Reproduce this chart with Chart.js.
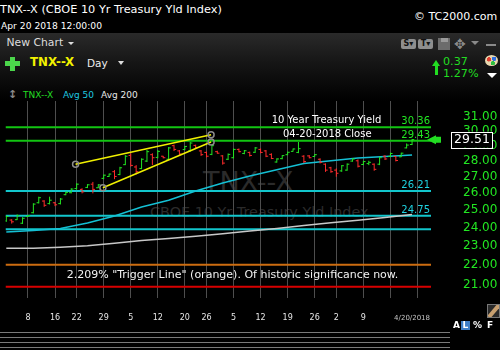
<!DOCTYPE html>
<html>
<head>
<meta charset="utf-8">
<title>TNX--X Daily</title>
<script src="https://cdn.jsdelivr.net/npm/chart.js@4.4.1/dist/chart.umd.min.js"></script>
<style>
  html, body { margin: 0; padding: 0; background: #000; }
  body { width: 500px; height: 350px; position: relative; overflow: hidden; font-family: "DejaVu Sans", Verdana, sans-serif; }
  .t { position: absolute; white-space: nowrap; line-height: 1; }
  .band { position: absolute; left: 0; top: 33px; width: 500px; height: 68px; background: linear-gradient(#2a2a2a, #151515 45%, #000); }
  .wm { position: absolute; white-space: nowrap; line-height: 1; color: #2b2b2b; }
  .tri { position: absolute; width: 0; height: 0; border-left: 3px solid transparent; border-right: 3px solid transparent; border-top: 3px solid #ddd; }
  .sep { position: absolute; left: 0; width: 450px; height: 1px; background: #7a7a7a; }
  .btn { position: absolute; height: 10px; width: 15px; background: #8e8e8e; border-radius: 2px; color: #111; font: bold 8px "DejaVu Sans"; line-height: 10px; text-align: center; }
  #wrap { position: absolute; left: 0; top: 0; width: 500px; height: 350px; }
</style>
</head>
<body>

<!-- header -->
<div class="t" style="left:0;top:3.6px;font-size:11.3px;color:#fff">TNX--X (CBOE 10 Yr Treasury Yld Index)</div>
<div class="t" style="left:1px;top:20.6px;font-size:9.2px;color:#fff">Apr 20 2018 12:00:00</div>
<div class="t" style="left:414px;top:11.4px;font-size:11px;color:#fff">© TC2000.com</div>

<div class="band"></div>
<div class="t" style="left:6.5px;top:37.8px;font-size:10.8px;color:#ddd">New Chart</div>
<div class="tri" style="left:68px;top:41.5px"></div>

<!-- green plus -->
<div style="position:absolute;left:9.7px;top:56.5px;width:5px;height:14px;background:#4bd64b"></div>
<div style="position:absolute;left:5px;top:61px;width:14.5px;height:5px;background:#4bd64b"></div>

<div class="t" style="left:30px;top:56.8px;font-size:11.8px;font-weight:bold;color:#f2f200">TNX--X</div>
<div class="t" style="left:87px;top:57.5px;font-size:10.5px;color:#eee">Day</div>
<div class="tri" style="left:118px;top:61px;border-left-width:3.5px;border-right-width:3.5px;border-top-width:4px"></div>

<div class="btn" style="left:401px;top:39px">S▾</div>
<div class="btn" style="left:418px;top:39px">T▾</div>
<div style="position:absolute;left:438px;top:37.5px;width:12px;height:12px;background:#6c6c6c"></div>
<div style="position:absolute;left:440.5px;top:38px;width:7px;height:4px;background:#9a9a9a"></div>
<div class="t" style="left:454px;top:36.5px;font-size:14px;color:#8a8a8a">✥</div>
<div class="tri" style="left:471px;top:41px;border-left-width:4px;border-right-width:4px;border-top:4px solid #8a8a8a"></div>
<div style="position:absolute;left:486px;top:43.5px;width:10px;height:2px;background:#8a8a8a"></div>

<!-- change readout -->
<div style="position:absolute;left:431.5px;top:60px;width:0;height:0;border-left:4.5px solid transparent;border-right:4.5px solid transparent;border-bottom:6px solid #22dd22"></div>
<div style="position:absolute;left:434.5px;top:65.5px;width:3px;height:9.5px;background:#22dd22"></div>
<div class="t" style="left:443px;top:55.8px;font-size:11.2px;color:#22dd22">0.37</div>
<div class="t" style="left:443px;top:68px;font-size:11.2px;color:#22dd22">1.27%</div>
<div style="position:absolute;left:485px;top:55px;width:13px;height:11px;border-radius:50%;background:radial-gradient(circle at 30% 40%, #e04030 0 18%, transparent 20%), radial-gradient(circle at 70% 35%, #3070e0 0 18%, transparent 20%), radial-gradient(circle at 60% 75%, #30c040 0 18%, transparent 20%), #e8d8b0"></div>
<div class="tri" style="left:486.5px;top:73px;border-left-width:5px;border-right-width:5px;border-top:5px solid #fff"></div>

<!-- legend row -->
<div class="t" style="left:8px;top:89px;font-size:11px;font-weight:bold;color:#8a8a8a">↕</div>
<div class="t" style="left:23px;top:91.4px;font-size:9px;color:#22dd22">TNX--X</div>
<div class="t" style="left:63px;top:91.4px;font-size:9px;color:#1ec8e0">Avg 50</div>
<div class="t" style="left:101px;top:91.4px;font-size:9px;color:#e8e8e8">Avg 200</div>

<!-- faint symbol watermark behind the plot -->
<div class="wm" style="left:203px;top:168px;font-size:27px">TNX--X</div>
<div class="wm" style="left:150px;top:205px;font-size:14.4px">CBOE 10 Yr Treasury Yld Index</div>

<div id="wrap"><canvas id="chart" width="500" height="350"></canvas></div>

<!-- notes written on the chart -->
<div class="t" style="left:271.7px;top:114.5px;font-size:10px;color:#fff">10 Year Treasury Yield</div>
<div class="t" style="left:283px;top:128.5px;font-size:10px;color:#fff">04-20-2018 Close</div>
<div class="t" style="left:66.7px;top:268.7px;font-size:11px;color:#f2f2f2">2.209% "Trigger Line" (orange). Of historic significance now.</div>

<!-- bottom right tools -->
<div style="position:absolute;left:487px;top:304px;width:11px;height:12px;border:1px solid #777;background:#2a2a2a;overflow:hidden">
  <div style="position:absolute;left:-2px;top:4px;width:16px;height:4px;background:#c8a070;transform:rotate(-50deg)"></div>
</div>
<div class="t" style="left:453px;top:321px;font-size:9px;font-weight:bold;color:#fff">A</div>
<div style="position:absolute;left:461px;top:320.5px;width:9px;height:9px;background:#3f7fc6"></div>
<div class="t" style="left:462.5px;top:321px;font-size:9px;font-weight:bold;color:#fff">L</div>
<div class="t" style="left:473px;top:321px;font-size:9px;font-weight:bold;color:#fff">%</div>
<div class="t" style="left:487px;top:321px;font-size:9px;font-weight:bold;color:#fff">F</div>

<div class="sep" style="top:332px"></div>
<div class="sep" style="top:337px"></div>
<div class="sep" style="top:342px"></div>
<div class="sep" style="top:347px"></div>

<script>
'use strict';

/* ========================================================
   Data — TNX daily bars, Jan 2 to Apr 20 2018 (yield x 10)
   ======================================================== */
const days = [
  '1/2','1/3','1/4','1/5','1/8','1/9','1/10','1/11','1/12','1/16','1/17','1/18','1/19',
  '1/22','1/23','1/24','1/25','1/26','1/29','1/30','1/31','2/1','2/2',
  '2/5','2/6','2/7','2/8','2/9','2/12','2/13','2/14','2/15','2/16',
  '2/20','2/21','2/22','2/23','2/26','2/27','2/28','3/1','3/2',
  '3/5','3/6','3/7','3/8','3/9','3/12','3/13','3/14','3/15','3/16',
  '3/19','3/20','3/21','3/22','3/23','3/26','3/27','3/28','3/29',
  '4/2','4/3','4/4','4/5','4/6','4/9','4/10','4/11','4/12','4/13',
  '4/16','4/17','4/18','4/19','4/20'
];

const opens = [
  24.45, 24.50, 24.52, 24.32, 24.70, 24.92, 25.50, 25.60, 25.45, 25.50, 25.45, 25.98, 26.10,
  26.35, 26.30, 26.42, 26.62, 26.40, 26.98, 27.10, 27.40, 27.22, 27.85,
  28.45, 27.70, 27.60, 28.08, 28.50, 28.32, 28.40, 28.20, 29.10, 28.75,
  28.84, 28.75, 29.12, 28.75, 28.65, 28.52, 28.70, 28.42, 28.20,
  28.30, 28.85, 28.58, 28.65, 28.66, 28.85, 28.75, 28.52, 28.02, 28.24,
  28.50, 28.72, 28.65, 28.40, 28.42, 28.38, 28.20, 27.88, 27.65,
  27.50, 27.45, 27.50, 28.08, 28.10, 27.86, 27.92, 27.88, 27.88, 28.40,
  28.38, 28.38, 28.36, 28.95, 29.18
];
const highs = [
  24.75, 24.55, 24.82, 24.66, 24.78, 25.47, 25.86, 25.65, 25.86, 25.55, 25.78, 26.16, 26.37,
  26.68, 26.37, 26.62, 26.76, 26.62, 27.22, 27.28, 27.50, 27.71, 28.47,
  28.60, 27.82, 28.26, 28.81, 28.59, 28.81, 28.42, 29.01, 29.17, 28.81,
  29.08, 29.35, 29.17, 28.81, 28.70, 29.17, 28.76, 28.47, 28.58,
  28.91, 28.91, 28.81, 28.70, 29.01, 28.91, 28.81, 28.59, 28.26, 28.47,
  28.70, 28.91, 29.35, 28.47, 28.47, 28.53, 28.26, 27.93, 27.71,
  27.61, 27.82, 27.93, 28.26, 28.19, 28.10, 28.10, 27.93, 28.36, 28.47,
  28.63, 28.42, 28.63, 29.25, 29.55
];
const lows = [
  24.40, 24.30, 24.50, 24.28, 24.68, 24.88, 25.46, 25.26, 25.40, 25.30, 25.40, 25.95, 26.06,
  26.30, 26.06, 26.38, 26.06, 26.38, 26.93, 27.07, 26.93, 27.18, 27.82,
  27.72, 27.23, 27.56, 28.02, 27.82, 28.26, 28.26, 28.15, 28.74, 28.47,
  28.81, 28.70, 28.92, 28.42, 28.32, 28.47, 28.56, 27.85, 28.15,
  28.26, 28.65, 28.53, 28.38, 28.62, 28.59, 28.34, 28.21, 27.98, 28.20,
  28.47, 28.70, 28.60, 27.95, 28.26, 28.36, 27.93, 27.39, 27.33,
  27.08, 27.39, 27.46, 28.04, 27.67, 27.82, 27.82, 27.46, 27.82, 28.15,
  28.34, 28.06, 28.34, 28.92, 29.14
];
const closes = [
  24.70, 24.40, 24.75, 24.60, 24.76, 25.42, 25.80, 25.35, 25.65, 25.38, 25.72, 26.12, 26.32,
  26.62, 26.15, 26.58, 26.30, 26.58, 27.18, 27.25, 27.10, 27.65, 28.40,
  27.80, 27.40, 28.20, 28.70, 28.30, 28.72, 28.30, 28.95, 28.85, 28.55,
  29.05, 29.28, 28.98, 28.50, 28.40, 29.10, 28.60, 27.95, 28.52,
  28.85, 28.70, 28.76, 28.45, 28.95, 28.65, 28.40, 28.25, 28.22, 28.44,
  28.66, 28.88, 28.90, 28.05, 28.30, 28.50, 28.00, 27.50, 27.40,
  27.30, 27.78, 27.88, 28.22, 27.75, 28.05, 28.00, 27.55, 28.30, 28.22,
  28.58, 28.12, 28.60, 29.14, 29.51
];

// moving averages, read every fifth session
const avgIdx = [0, 5, 10, 15, 20, 25, 30, 35, 40, 45, 50, 55, 60, 65, 70, 75];
const avg50  = [23.83, 23.91, 24.02, 24.33, 24.73, 25.25, 25.65, 26.20, 26.69, 27.13, 27.53, 27.92, 28.11, 28.28, 28.38, 28.48];
const avg200 = [22.95, 22.95, 23.01, 23.09, 23.22, 23.37, 23.48, 23.60, 23.74, 23.88, 24.03, 24.19, 24.34, 24.49, 24.65, 24.81];

// horizontal reference levels
const levelValues = [30.36, 29.43, 26.21, 24.75, 23.98, 22.09, 21.00];
const levelTags   = ['30.36', '29.43', '26.21', '24.75', '', '', ''];

// rising wedge (session index, value)
const wedgeTopIdx = [12.8, 37.85];
const wedgeTopVal = [27.87, 29.84];
const wedgeLowIdx = [17.85, 37.85];
const wedgeLowVal = [26.40, 29.35];

// axes
const yTicks = [21, 22, 23, 24, 25, 26, 27, 28, 29, 30, 31];
const tickDays   = ['1/8','1/16','1/22','1/29','2/5','2/12','2/20','2/26','3/5','3/12','3/19','3/26','4/2','4/9','4/16','4/20','4/23'];
const tickLabels = ['8','16','22','29','5','12','20','26','5','12','19','26','2','9','','4/20/2018',''];

/* ========================================================
   Styles
   ======================================================== */
const UP = '#22e622';
const DOWN = '#ff2b2b';
const levelColors = ['#12c412', '#12c412', '#12c6cc', '#12c6cc', '#12c6cc', '#cc6c10', '#d80000'];
const X_MIN = -0.15;
const X_MAX = 78.5;
const Y_MIN = 20.47;
const Y_MAX = 32.27;
const FONT = '"DejaVu Sans", Verdana, sans-serif';

const tickIdx = tickDays.map(d => days.includes(d) ? days.indexOf(d) : days.length);
const lastTick = tickLabels.indexOf('4/20/2018');

// one polyline per colour: high-low stem, open tick left, close tick right
function barPath(up) {
  const pts = [];
  closes.forEach((c, i) => {
    if ((c >= opens[i]) !== up) return;
    pts.push(
      { x: i, y: lows[i] }, { x: i, y: highs[i] }, { x: i, y: null },
      { x: i - 0.4, y: opens[i] }, { x: i, y: opens[i] }, { x: i, y: null },
      { x: i, y: c }, { x: i + 0.4, y: c }, { x: i, y: null }
    );
  });
  return pts;
}

const pairs = (xs, ys) => xs.map((x, i) => ({ x, y: ys[i] }));

const plain = { pointRadius: 0, tension: 0, fill: false, spanGaps: false };

// listed top-most first (Chart.js paints the first dataset last)
const datasets = [
  { ...plain, data: pairs(wedgeTopIdx, wedgeTopVal), borderColor: '#f0f000', borderWidth: 1.5,
    pointRadius: 3, pointBorderColor: '#8c8c8c', pointBackgroundColor: 'rgba(0,0,0,0)', pointBorderWidth: 1.5 },
  { ...plain, data: pairs(wedgeLowIdx, wedgeLowVal), borderColor: '#f0f000', borderWidth: 1.5,
    pointRadius: 3, pointBorderColor: '#8c8c8c', pointBackgroundColor: 'rgba(0,0,0,0)', pointBorderWidth: 1.5 },
  { ...plain, data: barPath(true),  borderColor: UP,   borderWidth: 1 },
  { ...plain, data: barPath(false), borderColor: DOWN, borderWidth: 1 },
  { ...plain, data: pairs(avgIdx, avg50),  borderColor: '#14c0d4', borderWidth: 1.5 },
  { ...plain, data: pairs(avgIdx, avg200), borderColor: '#c8c8c8', borderWidth: 1.5 },
  ...levelValues.map((v, i) => ({
    ...plain, data: [{ x: X_MIN, y: v }, { x: X_MAX, y: v }], borderColor: levelColors[i], borderWidth: 2
  }))
];

/* ========================================================
   Level captions, price arrow and last-price box
   ======================================================== */
const overlays = {
  id: 'overlays',
  afterDatasetsDraw(chart) {
    const { ctx, chartArea, scales: { y } } = chart;
    ctx.save();
    ctx.font = '10px ' + FONT;
    ctx.textAlign = 'right';
    ctx.textBaseline = 'alphabetic';
    levelValues.forEach((v, i) => {
      if (!levelTags[i]) return;
      ctx.fillStyle = i < 2 ? UP : '#1ed2e0';
      ctx.fillText(levelTags[i], chartArea.right - 1, y.getPixelForValue(v) - 3);
    });

    const last = closes[closes.length - 1];
    const py = y.getPixelForValue(last);
    const tip = chartArea.right - 4;
    ctx.fillStyle = '#22dd22';
    ctx.beginPath();
    ctx.moveTo(tip, py);
    ctx.lineTo(tip + 9, py - 4.5);
    ctx.lineTo(tip + 9, py - 3);
    ctx.lineTo(tip + 14, py - 3);
    ctx.lineTo(tip + 14, py + 3);
    ctx.lineTo(tip + 9, py + 3);
    ctx.lineTo(tip + 9, py + 4.5);
    ctx.closePath();
    ctx.fill();

    ctx.fillStyle = '#000';
    ctx.fillRect(451, py - 8, 42, 16);
    ctx.strokeStyle = '#fff';
    ctx.lineWidth = 1;
    ctx.strokeRect(451.5, Math.round(py - 8) + 0.5, 41, 16);
    ctx.fillStyle = '#fff';
    ctx.font = '12.5px ' + FONT;
    ctx.textAlign = 'center';
    ctx.textBaseline = 'middle';
    ctx.fillText(last.toFixed(2), 472, py + 0.5);
    ctx.restore();
  }
};

/* ========================================================
   Chart
   ======================================================== */
new Chart(document.getElementById('chart'), {
  type: 'line',
  data: { datasets },
  options: {
    responsive: false,
    animation: false,
    devicePixelRatio: 1,
    layout: { padding: { top: 101, left: 0, right: 0, bottom: 22.3 } },
    plugins: { legend: { display: false }, tooltip: { enabled: false } },
    scales: {
      x: {
        type: 'linear',
        min: X_MIN,
        max: X_MAX,
        afterBuildTicks: s => { s.ticks = tickIdx.map(v => ({ value: v })); },
        afterFit: s => { s.height = 30; },
        border: { display: false },
        grid: {
          drawTicks: false,
          color: ctx => ctx.index === lastTick ? 'rgba(0,0,0,0)' : '#4e4e4e'
        },
        ticks: {
          autoSkip: false,
          maxRotation: 0,
          padding: 15.8,
          callback: (v, i) => tickLabels[i],
          color: ctx => ctx.index === lastTick ? '#c4c4c4' : '#e6e6e6',
          font: ctx => ({ family: FONT, size: ctx.index === lastTick ? 7 : 8 })
        }
      },
      y: {
        type: 'logarithmic',
        position: 'right',
        min: Y_MIN,
        max: Y_MAX,
        afterBuildTicks: s => { s.ticks = yTicks.map(v => ({ value: v })); },
        afterFit: s => { s.width = 69; },
        border: { display: false },
        grid: { display: false },
        ticks: {
          padding: 24,
          labelOffset: -1.5,
          color: '#22e622',
          font: { family: FONT, size: 12 },
          callback: v => Number(v).toFixed(2)
        }
      }
    }
  },
  plugins: [overlays]
});
</script>
</body>
</html>
